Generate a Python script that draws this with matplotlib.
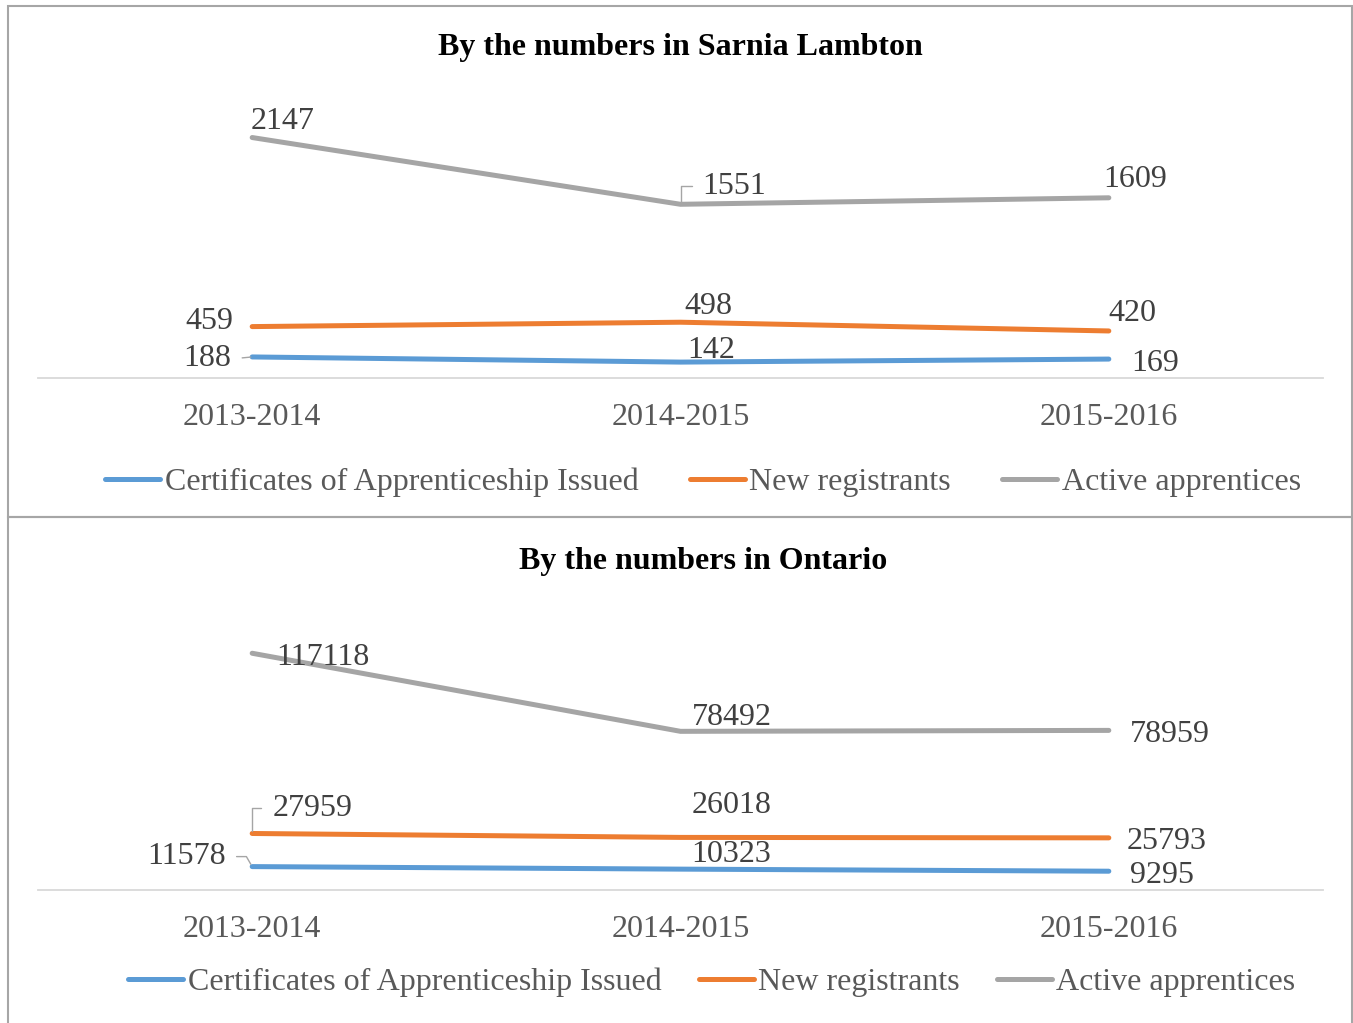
import matplotlib
matplotlib.use("Agg")
import matplotlib.pyplot as plt
from matplotlib.patches import Rectangle

plt.rcParams['font.family'] = ['Liberation Serif', 'DejaVu Serif']

years = ['2013-2014', '2014-2015', '2015-2016']
series_names = ['Certificates of Apprenticeship Issued', 'New registrants', 'Active apprentices']
colors = ['#5B9BD5', '#ED7D31', '#A5A5A5']

sarnia_certificates = [188, 142, 169]
sarnia_registrants = [459, 498, 420]
sarnia_active = [2147, 1551, 1609]

ontario_certificates = [11578, 10323, 9295]
ontario_registrants = [27959, 26018, 25793]
ontario_active = [117118, 78492, 78959]

# label offsets in pixels (dx, dy) and optional leader style
sarnia_offsets = [
    [(-45, -2), (31, 12), (46, -4)],
    [(-43, 5), (28, 16), (24, 17)],
    [(30, 16), (54, 18), (26, 18)],
]
sarnia_leaders = {(0, 0): 'straight', (2, 1): 'elbow'}
ontario_offsets = [
    [(-66, 10), (51, 15), (53, -4)],
    [(60, 25), (51, 32), (58, -4)],
    [(71, -4), (51, 14), (61, -4)],
]
ontario_leaders = {(0, 0): 'bent', (1, 0): 'elbow'}

W, H = 1353, 1023
fig = plt.figure(figsize=(W / 100, H / 100), dpi=100)


def panel(bottom_px, height_px, data, ymax, title, title_x, title_y, offsets, leaders, leg_x, leg_y, colsp):
    ax = fig.add_axes([38 / W, 1 - bottom_px / H, 1285 / W, height_px / H])
    x = range(len(years))
    for i, vals in enumerate(data):
        ax.plot(x, vals, color=colors[i], lw=3.6, solid_capstyle='round',
                label=series_names[i], zorder=3)
        for j, v in enumerate(vals):
            dx, dy = offsets[i][j]
            kind = leaders.get((i, j))
            arrow = None
            if kind == 'straight':
                arrow = dict(arrowstyle='-', color='#A5A5A5', lw=1, relpos=(1, 0.5),
                             shrinkA=6, shrinkB=1)
            elif kind == 'elbow':
                arrow = dict(arrowstyle='-', color='#A5A5A5', lw=1, relpos=(0, 0.5),
                             shrinkA=6, shrinkB=2,
                             connectionstyle='angle,angleA=0,angleB=90,rad=0')
            elif kind == 'bent':
                arrow = dict(arrowstyle='-', color='#A5A5A5', lw=1, relpos=(1, 0.5),
                             shrinkA=6, shrinkB=2,
                             connectionstyle='angle,angleA=0,angleB=120,rad=0')
            ax.annotate(str(v), (j, v), xytext=(dx, dy), textcoords='offset pixels',
                        ha='center', va='center', fontsize=23, color='#404040',
                        arrowprops=arrow, zorder=4)
    ax.set_xlim(-0.5, 2.5)
    ax.set_ylim(0, ymax)
    ax.set_xticks(list(x))
    ax.set_xticklabels(years, fontsize=23, color='#595959')
    ax.tick_params(axis='x', length=0, pad=18)
    ax.set_yticks([])
    for s in ['top', 'left', 'right']:
        ax.spines[s].set_visible(False)
    ax.spines['bottom'].set_color('#D9D9D9')
    ax.spines['bottom'].set_linewidth(1.3)
    ax.patch.set_alpha(0)
    fig.text(title_x / W, 1 - title_y / H, title, ha='center', va='center',
             fontsize=23, fontweight='bold', color='#000000')
    handles, labels = ax.get_legend_handles_labels()
    fig.legend(handles, labels, loc='center', bbox_to_anchor=(leg_x / W, 1 - leg_y / H),
               ncol=3, frameon=False, fontsize=23, handlelength=1.72,
               handletextpad=0.15, columnspacing=colsp, labelcolor='#595959')
    return ax


panel(378, 280, [sarnia_certificates, sarnia_registrants, sarnia_active], 2500,
      'By the numbers in Sarnia Lambton', 680, 47, sarnia_offsets, sarnia_leaders, 703, 482, 1.6)
panel(890, 283, [ontario_certificates, ontario_registrants, ontario_active], 140000,
      'By the numbers in Ontario', 703, 561, ontario_offsets, ontario_leaders, 712, 982, 1.15)

border = '#A6A6A6'
fig.patches.append(Rectangle((8 / W, 1 - 517 / H), 1344 / W, 511 / H, transform=fig.transFigure,
                             fill=False, edgecolor=border, lw=1.5))
fig.patches.append(Rectangle((8 / W, -0.01), 1344 / W, 1 - 517 / H + 0.01, transform=fig.transFigure,
                             fill=False, edgecolor=border, lw=1.5))

fig.savefig('out.png', dpi=100)
